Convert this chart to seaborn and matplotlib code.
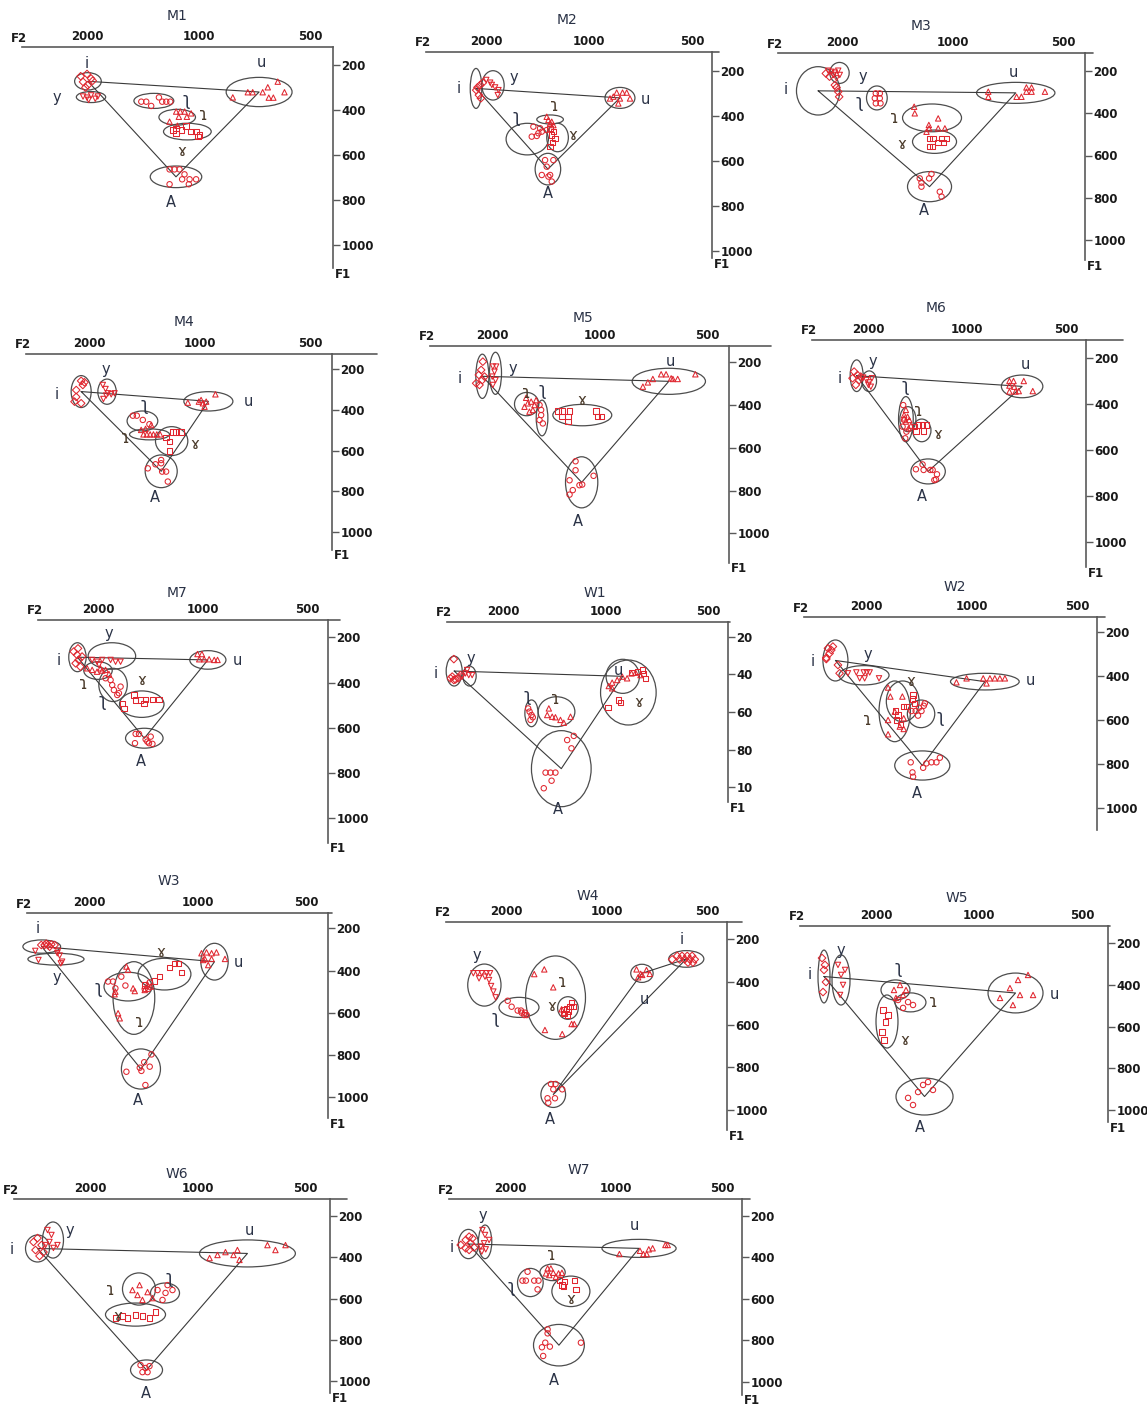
import numpy as np
import pandas as pd
import seaborn as sns
import matplotlib
matplotlib.use("Agg")
from matplotlib import pyplot as plt
from matplotlib.patches import Ellipse
from matplotlib.transforms import IdentityTransform
from matplotlib.ticker import NullLocator

# ---------------------------------------------------------------- data
# tokens per speaker: vowel -> (F2 values, F1 values) in Hz
SPEAKERS = ["M1", "M2", "M3", "M4", "M5", "M6", "M7",
            "W1", "W2", "W3", "W4", "W5", "W6", "W7"]
VOWELS = ["i", "y", "u", "A", "ʅ", "ɿ", "ɤ"]
F2_TICKS = [2000, 1000, 500]
F1_TICKS = [200, 400, 600, 800, 1000]

M1 = {
    "i": ([2080, 2000, 1950, 2050, 1990, 1930, 2020], [250, 240, 260, 275, 290, 270, 300]),
    "y": ([2050, 2000, 1950, 1900, 1870, 1980], [340, 345, 335, 350, 340, 355]),
    "u": ([808, 736, 714, 671, 650, 611, 646, 628, 586], [344, 321, 321, 321, 299, 274, 345, 345, 321]),
    "A": ([1197, 1161, 1125, 1091, 1107, 1057, 1015, 1197, 1062], [664, 664, 664, 686, 708, 708, 708, 730, 730]),
    "ʅ": ([1427, 1384, 1342, 1279, 1253, 1222, 1192], [363, 363, 382, 344, 363, 363, 363]),
    "ɿ": ([1149, 1120, 1090, 1130, 1075, 1047, 1197, 1140], [407, 407, 407, 430, 430, 415, 452, 470]),
    "ɤ": ([1173, 1149, 1113, 1080, 1015, 994, 1004, 1047, 1150], [489, 481, 489, 471, 496, 511, 519, 496, 505]),
}
M2 = {
    "i": ([2118, 2080, 2098, 2070, 2136, 2043], [274, 263, 308, 322, 286, 253]),
    "y": ([1997, 1945, 1881, 1839, 1848, 1923], [241, 253, 274, 286, 308, 263]),
    "u": ([849, 830, 798, 776, 812, 759, 821, 868], [315, 297, 297, 297, 323, 323, 345, 323]),
    "A": ([1344, 1271, 1329, 1374, 1299, 1285, 1314], [596, 596, 625, 662, 662, 691, 669]),
    "ʅ": ([1454, 1390, 1470, 1421, 1374, 1329, 1406], [448, 455, 492, 489, 470, 463, 477]),
    "ɿ": ([1329, 1314, 1285, 1271, 1299], [404, 418, 426, 441, 433]),
    "ɤ": ([1299, 1271, 1285, 1257, 1277, 1299], [455, 470, 485, 500, 519, 537]),
}
M3 = {
    "i": ([2213, 2070, 2048, 2036, 2092, 2163], [213, 279, 299, 323, 268, 228]),
    "y": ([2181, 2136, 2092, 2048, 2028, 2070, 2110], [200, 205, 209, 200, 220, 236, 220]),
    "u": ([799, 799, 669, 649, 629, 609, 629, 609, 560], [299, 323, 323, 323, 279, 279, 299, 299, 299]),
    "A": ([1228, 1215, 1215, 1158, 1141, 1083, 1071], [708, 728, 747, 708, 687, 771, 794]),
    "ʅ": ([1618, 1578, 1628, 1578, 1618, 1571], [307, 307, 330, 330, 354, 354]),
    "ɿ": ([1272, 1267, 1160, 1094, 1158, 1094, 1049, 1177], [370, 401, 456, 425, 472, 472, 472, 488]),
    "ɤ": ([1153, 1129, 1071, 1038, 1094, 1060, 1153, 1134], [519, 519, 519, 519, 540, 540, 558, 558]),
}
M4 = {
    "i": ([2190, 2167, 2101, 2079, 2058, 2101, 2167], [359, 302, 257, 277, 264, 367, 336]),
    "y": ([1834, 1803, 1777, 1740, 1704, 1827, 1796], [277, 297, 318, 323, 318, 346, 329]),
    "u": ([1076, 1004, 990, 979, 969, 905, 959], [364, 359, 351, 367, 384, 323, 359]),
    "A": ([1383, 1318, 1272, 1272, 1264, 1220, 1233], [687, 667, 646, 662, 703, 752, 703]),
    "ʅ": ([1519, 1482, 1427, 1369], [428, 428, 449, 470]),
    "ɿ": ([1421, 1391, 1363, 1335, 1307, 1280, 1442, 1354, 1403], [520, 520, 520, 520, 520, 520, 498, 474, 493]),
    "ɤ": ([1233, 1207, 1207, 1182, 1158, 1122], [536, 556, 601, 508, 508, 508]),
}
M5 = {
    "i": ([2168, 2122, 2145, 2177, 2099, 2215, 2130], [306, 197, 236, 259, 267, 298, 283]),
    "y": ([1989, 1947, 1968, 1997, 1955, 1989], [220, 220, 244, 267, 283, 306]),
    "u": ([756, 732, 709, 672, 651, 623, 604, 539, 630], [314, 294, 278, 256, 256, 278, 278, 256, 275]),
    "A": ([1167, 1167, 1213, 1188, 1213, 1138, 1118, 1039], [663, 705, 752, 798, 819, 775, 772, 731]),
    "ʅ": ([1472, 1457, 1472, 1441, 1457], [400, 447, 470, 486, 423]),
    "ɿ": ([1605, 1622, 1588, 1554, 1521, 1537, 1571, 1505], [366, 408, 392, 384, 400, 423, 431, 377]),
    "ɤ": ([1308, 1272, 1272, 1213, 1226, 1226, 1022, 1011, 989], [428, 428, 455, 428, 455, 478, 428, 455, 455]),
}
M6 = {
    "i": ([2204, 2153, 2128, 2178, 2104, 2229], [258, 273, 295, 316, 280, 287]),
    "y": ([2069, 2021, 1984, 1946, 1994, 1961], [284, 295, 305, 287, 316, 324]),
    "u": ([743, 722, 743, 718, 743, 696, 672, 631, 712], [299, 299, 319, 324, 345, 343, 299, 343, 345]),
    "A": ([1430, 1365, 1355, 1293, 1272, 1234, 1243, 1257], [684, 663, 687, 687, 687, 706, 728, 731]),
    "ʅ": ([1563, 1553, 1570, 1528, 1541], [404, 469, 498, 520, 549]),
    "ɿ": ([1534, 1553, 1516, 1534, 1498, 1481, 1505, 1553], [425, 447, 455, 476, 469, 494, 505, 462]),
    "ɤ": ([1447, 1404, 1365, 1327, 1430, 1355], [498, 491, 491, 491, 517, 517]),
}
M7 = {
    "i": ([2349, 2297, 2274, 2320, 2248, 2284, 2223], [263, 278, 300, 315, 330, 249, 285]),
    "y": ([2079, 2013, 1945, 1840, 1780, 1722, 1987], [300, 308, 300, 300, 308, 308, 322]),
    "u": ([1034, 1004, 989, 957, 925, 905, 1022], [274, 274, 297, 297, 300, 300, 297]),
    "A": ([1558, 1524, 1565, 1442, 1410, 1394, 1426, 1458], [627, 627, 668, 661, 639, 671, 668, 651]),
    "ʅ": ([1902, 1840, 1820, 1800, 1741, 1722, 1760], [381, 389, 411, 433, 447, 418, 455]),
    "ɿ": ([2149, 2079, 2013, 1945, 1902, 1860, 1967], [337, 344, 352, 347, 344, 362, 337]),
    "ɤ": ([1703, 1684, 1576, 1558, 1507, 1458, 1394, 1334, 1474], [492, 514, 455, 477, 477, 474, 474, 474, 492]),
}
W1 = {
    "i": ([2789, 2852, 2820, 2758, 2789, 2707, 2666], [319, 421, 412, 427, 430, 421, 404]),
    "y": ([2578, 2521, 2464, 2549, 2636], [395, 404, 404, 377, 412]),
    "u": ([978, 956, 924, 893, 864, 839, 816, 789, 956], [462, 444, 430, 412, 421, 395, 391, 404, 474]),
    "A": ([1239, 1296, 1259, 1500, 1451, 1403, 1440, 1518], [727, 749, 793, 922, 922, 922, 965, 1005]),
    "ʅ": ([1687, 1671, 1649, 1635, 1660], [581, 598, 616, 628, 642]),
    "ɿ": ([1467, 1434, 1403, 1356, 1326, 1267, 1483], [581, 625, 628, 642, 657, 625, 616]),
    "ɤ": ([982, 914, 904, 835, 807, 772, 763, 780], [577, 536, 550, 391, 386, 395, 421, 377]),
}
W2 = {
    "i": ([2568, 2512, 2486, 2596, 2596, 2405, 2379, 2540], [273, 281, 265, 316, 322, 349, 387, 296]),
    "y": ([2252, 2131, 2085, 2030, 1989, 2018, 1952, 1836], [387, 383, 410, 383, 383, 410, 383, 410]),
    "u": ([1104, 1033, 906, 886, 858, 830, 803, 926], [428, 410, 433, 410, 410, 410, 410, 410]),
    "A": ([1491, 1474, 1468, 1345, 1301, 1259, 1231, 1374], [793, 839, 859, 798, 793, 793, 772, 818]),
    "ʅ": ([1484, 1443, 1421, 1389, 1368, 1359, 1412], [559, 559, 580, 559, 535, 524, 544]),
    "ɿ": ([1730, 1704, 1575, 1561, 1730, 1730, 1655, 1602, 1561], [452, 493, 493, 592, 600, 665, 562, 630, 641]),
    "ɤ": ([1645, 1638, 1595, 1561, 1534, 1468, 1475, 1452, 1620], [559, 600, 620, 539, 539, 486, 504, 524, 577]),
}
W3 = {
    "i": ([2713, 2656, 2600, 2545, 2491, 2572, 2628], [279, 279, 279, 276, 279, 287, 273]),
    "y": ([2819, 2762, 2449, 2438, 2412, 2375, 2395], [307, 350, 318, 307, 329, 358, 366]),
    "u": ([975, 944, 914, 886, 954, 914, 839, 934, 964], [318, 314, 318, 314, 345, 345, 345, 374, 350]),
    "A": ([1575, 1446, 1406, 1357, 1395, 1342, 1431], [879, 860, 834, 855, 942, 797, 875]),
    "ʅ": ([1771, 1716, 1690, 1627, 1585, 1401, 1371, 1357], [452, 452, 484, 429, 471, 487, 487, 456]),
    "ɿ": ([1575, 1559, 1509, 1493, 1690, 1698, 1661, 1643, 1401, 1377, 1348],
          [381, 397, 484, 497, 500, 512, 602, 626, 492, 465, 476]),
    "ɤ": ([1401, 1273, 1194, 1156, 1131, 1108, 1314], [468, 429, 385, 366, 366, 408, 449]),
}
W4 = {
    "i": ([636, 614, 594, 573, 554, 604, 583, 563, 544, 570, 551], [294, 278, 278, 278, 278, 294, 294, 294, 294, 309, 309]),
    "y": ([2505, 2431, 2364, 2285, 2233, 2409, 2248, 2217, 2182, 2149, 2312],
          [359, 359, 359, 359, 359, 383, 391, 419, 445, 472, 375]),
    "u": ([813, 790, 759, 742, 804, 782], [341, 362, 344, 362, 378, 367]),
    "A": ([1467, 1421, 1443, 1357, 1502, 1494, 1427], [878, 878, 903, 903, 945, 966, 945]),
    "ʅ": ([1977, 1924, 1845, 1795, 1763, 1803, 1755, 1734], [488, 516, 534, 544, 555, 534, 544, 555]),
    "ɿ": ([1646, 1536, 1444, 1529, 1357, 1272, 1249, 1363, 1339], [363, 341, 425, 625, 644, 597, 597, 528, 544]),
    "ɤ": ([1348, 1317, 1287, 1258, 1273, 1302, 1339, 1308], [528, 523, 516, 516, 497, 539, 547, 555]),
}
W5 = {
    "i": ([2876, 2838, 2800, 2857, 2819], [272, 329, 387, 435, 305]),
    "y": ([2583, 2530, 2497, 2547, 2463], [305, 353, 401, 449, 329]),
    "u": ([868, 812, 769, 719, 695, 759, 796], [463, 416, 377, 353, 449, 449, 497]),
    "A": ([1612, 1559, 1457, 1409, 1363, 1507], [942, 976, 880, 866, 904, 914]),
    "ʅ": ([1724, 1612, 1559, 1667], [473, 483, 497, 511]),
    "ɿ": ([1772, 1702, 1667, 1634, 1749], [425, 401, 449, 425, 463]),
    "ɤ": ([1908, 1880, 1921, 1894, 1846], [521, 578, 626, 665, 545]),
}
W6 = {
    "i": ([2880, 2805, 2733, 2842, 2699, 2769], [326, 307, 341, 365, 375, 394]),
    "y": ([2664, 2597, 2532, 2467, 2564, 2630], [341, 326, 355, 341, 292, 268]),
    "u": ([925, 879, 835, 793, 763, 637, 605, 567, 773], [404, 389, 375, 389, 413, 341, 365, 341, 365]),
    "A": ([1444, 1398, 1363, 1426, 1380], [923, 937, 928, 957, 957]),
    "ʅ": ([1294, 1229, 1175, 1253, 1213], [559, 573, 559, 607, 535]),
    "ɿ": ([1521, 1472, 1426, 1380, 1337, 1453], [559, 583, 607, 569, 598, 535]),
    "ɤ": ([1622, 1570, 1491, 1426, 1363, 1311, 1697], [685, 695, 680, 685, 695, 666, 695]),
}
W7 = {
    "i": ([2760, 2671, 2613, 2557, 2671, 2613, 2529, 2585], [341, 317, 301, 309, 357, 365, 353, 333]),
    "y": ([2395, 2355, 2293, 2370, 2421, 2344, 2405], [269, 293, 317, 333, 349, 362, 373]),
    "u": ([978, 855, 836, 807, 787, 724, 713, 818], [385, 369, 385, 362, 357, 341, 341, 385]),
    "A": ([1564, 1564, 1588, 1623, 1541, 1610, 1258], [748, 767, 812, 834, 831, 876, 812]),
    "ʅ": ([1843, 1803, 1707, 1660, 1783, 1670], [513, 513, 513, 513, 470, 555]),
    "ɿ": ([1564, 1531, 1507, 1456, 1547, 1482, 1581, 1424], [454, 454, 475, 478, 486, 494, 478, 475]),
    "ɤ": ([1449, 1424, 1403, 1314, 1300, 1412], [510, 534, 518, 513, 555, 542]),
}
TOKENS = {"M1": M1, "M2": M2, "M3": M3, "M4": M4, "M5": M5, "M6": M6, "M7": M7,
          "W1": W1, "W2": W2, "W3": W3, "W4": W4, "W5": W5, "W6": W6, "W7": W7}

# spread rings: vowel -> (F2 high, F2 low, F1 low, F1 high) in Hz
RINGS = {
    "M1": {"i": (2160, 1830, 234, 311), "y": (2137, 1781, 318, 367), "u": (842, 559, 255, 385),
           "A": (1350, 980, 649, 745), "ʅ": (1494, 1166, 326, 393), "ɿ": (1279, 1019, 397, 467),
           "ɤ": (1243, 924, 459, 533)},
    "M2": {"i": (2224, 2057, 190, 367), "y": (2057, 1770, 200, 330), "u": (898, 734, 274, 367),
           "A": (1437, 1210, 566, 706), "ʅ": (1747, 1314, 433, 573), "ɿ": (1421, 1188, 396, 436),
           "ɤ": (1329, 1149, 433, 559)},
    "M3": {"i": (2661, 2028, 181, 409), "y": (2159, 1912, 161, 260), "u": (860, 526, 255, 354),
           "A": (1326, 1006, 676, 818), "ʅ": (1715, 1506, 272, 385), "ɿ": (1368, 945, 357, 488),
           "ɤ": (1285, 975, 480, 590)},
    "M4": {"i": (2237, 1973, 231, 388), "y": (1892, 1686, 248, 372), "u": (1103, 811, 310, 405),
           "A": (1406, 1150, 621, 782), "ʅ": (1575, 1299, 405, 503), "ɿ": (1551, 1207, 493, 547),
           "ɤ": (1318, 1076, 482, 624)},
    "M5": {"i": (2220, 2041, 162, 369), "y": (2033, 1881, 153, 350), "u": (810, 505, 228, 350),
           "A": (1245, 1011, 642, 881), "ʅ": (1504, 1395, 377, 544), "ɿ": (1730, 1479, 341, 450),
           "ɤ": (1351, 924, 397, 497)},
    "M6": {"i": (2266, 2069, 207, 345), "y": (2088, 1884, 255, 345), "u": (786, 588, 273, 372),
           "A": (1481, 1164, 639, 748), "ʅ": (1615, 1457, 367, 564), "ɿ": (1600, 1430, 411, 520),
           "ɤ": (1464, 1287, 465, 564)},
    "M7": {"i": (2428, 2164, 224, 352), "y": (2135, 1558, 224, 341), "u": (1088, 856, 259, 341),
           "A": (1666, 1299, 602, 690), "ʅ": (1989, 1647, 337, 484), "ɿ": (2198, 1820, 308, 386),
           "ɤ": (1734, 1291, 437, 554)},
    "W1": {"i": (2937, 2636, 303, 462), "y": (2624, 2398, 356, 462), "u": (996, 795, 320, 501),
           "A": (1650, 1102, 699, 1103), "ʅ": (1725, 1577, 536, 678), "ɿ": (1577, 1230, 519, 678),
           "ɤ": (1034, 710, 324, 669)},
    "W2": {"i": (2654, 2252, 235, 422), "y": (2389, 1719, 352, 440), "u": (1148, 731, 387, 463),
           "A": (1656, 1153, 741, 874), "ʅ": (1524, 1273, 509, 635), "ɿ": (1836, 1494, 422, 699),
           "ɤ": (1750, 1411, 422, 608)},
    "W3": {"i": (3051, 2398, 255, 318), "y": (2955, 2065, 318, 374), "u": (979, 822, 271, 445),
           "A": (1626, 1267, 771, 961), "ʅ": (1817, 1337, 408, 544), "ɿ": (1715, 1314, 358, 702),
           "ɤ": (1462, 1043, 342, 492)},
    "W4": {"i": (651, 511, 253, 331), "y": (2604, 2070, 316, 513), "u": (846, 725, 317, 402),
           "A": (1572, 1326, 867, 988), "ʅ": (2099, 1593, 472, 566), "ɿ": (1747, 1156, 278, 669),
           "ɤ": (1401, 1215, 469, 575)},
    "W5": {"i": (2955, 2726, 234, 487), "y": (2689, 2382, 257, 497), "u": (941, 650, 344, 535),
           "A": (1748, 1191, 847, 1024), "ʅ": (1760, 1429, 439, 530), "ɿ": (1934, 1591, 377, 473),
           "ɤ": (2000, 1725, 449, 703)},
    "W6": {"i": (3031, 2597, 292, 423), "y": (2717, 2373, 229, 404), "u": (987, 532, 316, 447),
           "A": (1540, 1253, 898, 995), "ʅ": (1354, 1123, 525, 622), "ɿ": (1622, 1311, 476, 632),
           "ɤ": (1810, 1229, 622, 734)},
    "W7": {"i": (2802, 2459, 266, 407), "y": (2459, 2253, 245, 407), "u": (1096, 675, 314, 401),
           "A": (1715, 1230, 724, 924), "ʅ": (1904, 1610, 454, 590), "ɿ": (1645, 1394, 433, 513),
           "ɤ": (1521, 1186, 491, 638)},
}

# ---------------------------------------------------------------- layout
# where each vowel label sits (F2, F1)
LABEL_AT = {
    "M1": {"i": (2000, 193), "y": (2410, 344), "u": (678, 190), "A": (1185, 812), "ʅ": (1080, 356), "ɿ": (969, 422), "ɤ": (1107, 585)},
    "M2": {"i": (2406, 278), "y": (1655, 230), "u": (682, 327), "A": (1320, 743), "ʅ": (1626, 404), "ɿ": (1265, 357), "ɤ": (1116, 485)},
    "M3": {"i": (2844, 288), "y": (1758, 225), "u": (681, 209), "A": (1194, 860), "ʅ": (1788, 346), "ɿ": (1436, 425), "ɤ": (1377, 546)},
    "M4": {"i": (2447, 326), "y": (1803, 203), "u": (734, 359), "A": (1326, 831), "ʅ": (1412, 375), "ɿ": (1591, 536), "ɤ": (1032, 569)},
    "M5": {"i": (2456, 278), "y": (1749, 228), "u": (634, 197), "A": (1150, 944), "ʅ": (1447, 330), "ɿ": (1605, 345), "ɤ": (1118, 377)},
    "M6": {"i": (2437, 287), "y": (1938, 215), "u": (664, 229), "A": (1371, 804), "ʅ": (1541, 319), "ɿ": (1404, 430), "ɤ": (1228, 532)},
    "M7": {"i": (2596, 303), "y": (1861, 182), "u": (792, 303), "A": (1507, 749), "ʅ": (1937, 480), "ɿ": (2198, 406), "ɤ": (1491, 391)},
    "W1": {"i": (3143, 395), "y": (2491, 315), "u": (914, 380), "A": (1377, 1117), "ʅ": (1699, 515), "ɿ": (1408, 533), "ɤ": (798, 550)},
    "W2": {"i": (2834, 331), "y": (1974, 300), "u": (681, 422), "A": (1436, 935), "ʅ": (1226, 585), "ɿ": (1987, 600), "ɤ": (1494, 425)},
    "W3": {"i": (2784, 200), "y": (2449, 434), "u": (771, 361), "A": (1462, 1013), "ʅ": (1888, 481), "ɿ": (1446, 642), "ɤ": (1264, 314)},
    "W4": {"i": (594, 200), "y": (2448, 278), "u": (772, 481), "A": (1477, 1044), "ʅ": (2157, 570), "ɿ": (1357, 398), "ɤ": (1460, 516)},
    "W5": {"i": (3118, 353), "y": (2530, 234), "u": (600, 449), "A": (1487, 1086), "ʅ": (1725, 320), "ɿ": (1363, 483), "ɤ": (1645, 665)},
    "W6": {"i": (3317, 360), "y": (2283, 268), "u": (715, 268), "A": (1398, 1063), "ʅ": (1198, 501), "ɿ": (1752, 559), "ɤ": (1675, 685)},
    "W7": {"i": (2927, 353), "y": (2395, 197), "u": (887, 245), "A": (1504, 992), "ʅ": (1976, 545), "ɿ": (1521, 390), "ɤ": (1343, 603)},
}

# pixel frame: left, top, right, bottom, top line end, x@2000, x@500, y@200, y@1000, title x, title y
FRAMES = {
    "M1": (22, 47, 333, 268, 333, 87, 310, 65, 245, 177, 16),
    "M2": (426, 52, 712, 258, 719, 486, 692, 70.7, 251.3, 567, 20),
    "M3": (778, 53, 1085, 260, 1093, 842, 1063, 70.7, 240.3, 921, 26),
    "M4": (26, 354, 332, 550, 377, 89, 310, 369.3, 532, 184, 322),
    "M5": (430, 346, 729, 563, 771, 492, 707, 362.3, 533.3, 583, 318),
    "M6": (812, 340, 1086, 567, 1123, 868, 1066, 358.3, 541.7, 936, 308),
    "M7": (38, 620, 328, 843, 340, 98, 307, 637.3, 818.3, 177, 593),
    "W1": (447, 622, 728, 802, 730, 503, 708, 636.7, 787.3, 595, 593),
    "W2": (804, 617, 1097, 830, 1105, 866, 1077, 632.3, 807.7, 955, 587),
    "W3": (27, 913, 328, 1118, 332, 89, 306, 928.3, 1097.3, 169, 881),
    "W4": (446, 922, 727, 1130, 742, 506, 707, 939.3, 1110, 588, 896),
    "W5": (800, 926, 1108, 1122, 1110, 876, 1082, 943, 1110, 957, 898),
    "W6": (14, 1199, 330, 1393, 347, 90, 305, 1216, 1381, 177, 1174),
    "W7": (449, 1199, 742, 1395, 750, 510, 722, 1215.7, 1381.7, 579, 1170),
}

W, H = 1147, 1407
RED = "#e0262f"
SPINE = "#5a5a5a"
RING = "#4d4d4d"
INK = "#2a3246"
BROWN = "#4a3a2a"
MARKERS = {"i": "D", "y": "v", "u": "^", "A": "o", "ʅ": "o", "ɿ": "^", "ɤ": "s"}
LABEL_COLOR = {"i": INK, "y": INK, "u": INK, "A": INK, "ʅ": INK, "ɿ": BROWN, "ɤ": BROWN}
LABEL_SIZE = {"i": 10.5, "y": 10.5, "u": 10.5, "A": 10.5, "ʅ": 12, "ɿ": 12, "ɤ": 11}


def frame_axes(fig, name):
    left, top, right, bottom, line_end, x2000, x500, y200, y1000, tx, ty = FRAMES[name]
    ax = fig.add_axes([left / W, 1 - bottom / H, (right - left) / W, (bottom - top) / H])
    octave = (x500 - x2000) / 2.0
    hz_px = 800.0 / (y1000 - y200)
    ax.set_xscale("log")
    ax.set_xlim(2000 * 2 ** ((x2000 - left) / octave), 2000 * 2 ** (-(right - x2000) / octave))
    ax.set_ylim(200 + (bottom - y200) * hz_px, 200 - (y200 - top) * hz_px)

    for side in ["left", "bottom"]:
        ax.spines[side].set_visible(False)
    for side in ["top", "right"]:
        ax.spines[side].set_color(SPINE)
        ax.spines[side].set_linewidth(1.2)
    ext = (line_end - right) / (right - left)
    if ext > 0:
        ax.plot([1, 1 + ext], [1, 1], transform=ax.transAxes, clip_on=False, color=SPINE, lw=1.2)

    ax.xaxis.tick_top()
    ax.set_xticks(F2_TICKS)
    ax.set_xticklabels([str(t) for t in F2_TICKS], fontweight="bold", fontsize=8.5)
    ax.xaxis.set_minor_locator(NullLocator())
    ax.tick_params(axis="x", length=0, pad=3, labelcolor="#1a1a1a")

    ax.yaxis.tick_right()
    ax.set_yticks(F1_TICKS)
    ylabels = [str(t) for t in F1_TICKS]
    if name == "W1":
        ylabels = [s[:2] for s in ylabels]
    ax.set_yticklabels(ylabels, fontweight="bold", fontsize=8.5)
    ax.tick_params(axis="y", length=5, width=1, pad=1, color=SPINE, labelcolor="#1a1a1a")
    ax.set_xlabel("")
    ax.set_ylabel("")

    ax.annotate("F2", xy=(0, 1), xycoords="axes fraction", xytext=(-3, 9), textcoords="offset pixels",
                ha="center", va="center", fontsize=8.5, fontweight="bold", color="#1a1a1a")
    if name != "W2":
        ax.annotate("F1", xy=(1, 0), xycoords="axes fraction", xytext=(2, -6), textcoords="offset pixels",
                    ha="left", va="center", fontsize=8.5, fontweight="bold", color="#1a1a1a")
    fig.text(tx / W, 1 - ty / H, name, ha="center", va="center", fontsize=10, color=INK)
    return ax


def draw_speaker(fig, name):
    ax = frame_axes(fig, name)
    xlim, ylim = ax.get_xlim(), ax.get_ylim()

    rows = []
    for v in VOWELS:
        f2, f1 = TOKENS[name][v]
        rows += [(v, a, b) for a, b in zip(f2, f1)]
    df = pd.DataFrame(rows, columns=["vowel", "F2", "F1"])
    sns.scatterplot(data=df, x="F2", y="F1", style="vowel", markers=MARKERS, ax=ax, legend=False,
                    color=RED, facecolor="none", edgecolor=RED, linewidth=0.75, s=15, zorder=3)
    ax.set_xlim(xlim)
    ax.set_ylim(ylim)
    ax.set_xlabel("")
    ax.set_ylabel("")

    centres = {}
    for v, (f2a, f2b, f1a, f1b) in RINGS[name].items():
        cx, cy = np.sqrt(f2a * f2b), (f1a + f1b) / 2
        centres[v] = (cx, cy)
        pts = ax.transData.transform([(cx, cy), (f2a, cy), (f2b, cy), (cx, f1a), (cx, f1b)])
        w = abs(pts[2][0] - pts[1][0])
        h = abs(pts[4][1] - pts[3][1])
        ax.add_patch(Ellipse(pts[0], w, h, transform=IdentityTransform(), fill=False,
                             ec=RING, lw=0.9, clip_on=False, zorder=2))

    tri = [centres["i"], centres["u"], centres["A"], centres["i"]]
    ax.plot([p[0] for p in tri], [p[1] for p in tri], color="#3a3a3a", lw=0.8, zorder=2)

    for v, (lx, ly) in LABEL_AT[name].items():
        ax.text(lx, ly, v, ha="center", va="center", fontsize=LABEL_SIZE[v],
                color=LABEL_COLOR[v], clip_on=False)


def main():
    sns.set_theme(style="white")
    plt.rcParams["font.family"] = ["DejaVu Sans"]
    fig = plt.figure(figsize=(W / 100, H / 100), dpi=100)
    fig.patch.set_facecolor("white")
    for name in SPEAKERS:
        draw_speaker(fig, name)
    fig.savefig("out.png", dpi=100, facecolor="white")


if __name__ == "__main__":
    main()
